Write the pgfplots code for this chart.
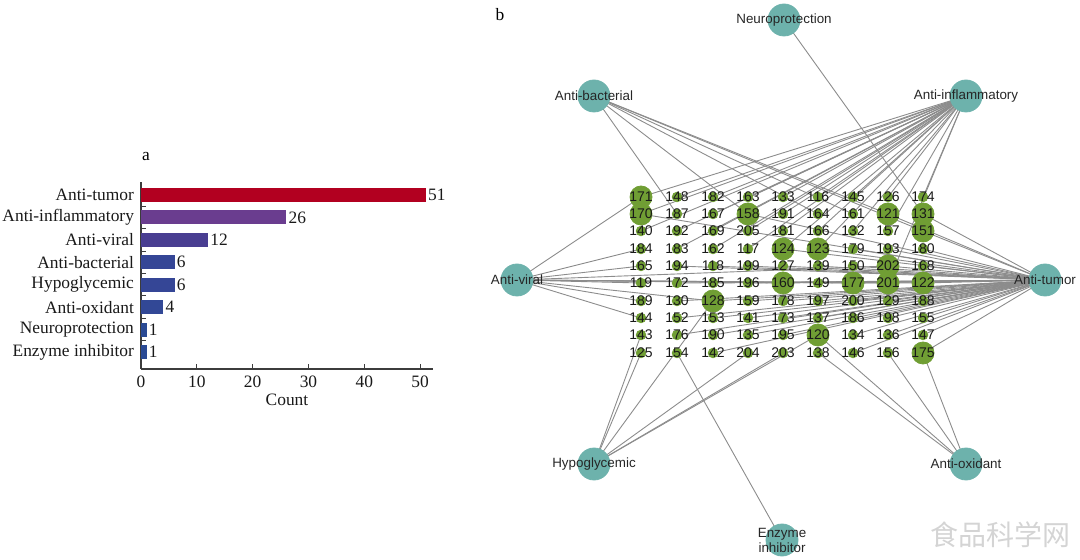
\documentclass[border=0pt]{standalone}
\usepackage{pgfplots}
\pgfplotsset{compat=1.18}
\usepackage{pgfplotstable}
\usepackage{fontspec}
\setmainfont{Liberation Serif}
\newfontfamily\netfont{Liberation Sans}
\newfontfamily\cjk{Noto Sans CJK SC}

\definecolor{ctumor}{RGB}{178,0,32}
\definecolor{cinfl}{RGB}{106,61,143}
\definecolor{cviral}{RGB}{73,62,145}
\definecolor{cbact}{RGB}{53,70,150}
\definecolor{coxid}{RGB}{50,72,150}
\definecolor{cone}{RGB}{42,74,148}
\definecolor{hubteal}{RGB}{109,178,172}
\definecolor{nodegreen}{RGB}{112,158,52}
\definecolor{edgegray}{RGB}{140,140,140}
\definecolor{axisgray}{RGB}{60,60,60}
\definecolor{wmgray}{RGB}{212,212,212}

% ---------- network nodes ----------
\pgfplotstableread{
x y lab
677 197 148
713 197 182
748 197 163
783 197 133
818 197 116
853 197 145
888 197 126
923 197 174
677 214 187
713 214 167
783 214 191
818 214 164
853 214 161
641 231 140
677 231 192
713 231 169
748 231 205
783 231 181
818 231 166
853 231 132
888 231 157
641 249 184
677 249 183
713 249 162
748 249 117
853 249 179
888 249 193
923 249 180
641 266 165
677 266 194
713 266 118
748 266 199
783 266 127
818 266 139
853 266 150
923 266 168
641 283 119
677 283 172
713 283 185
748 283 196
818 283 149
641 301 189
677 301 130
748 301 159
783 301 178
818 301 197
853 301 200
888 301 129
923 301 188
641 318 144
677 318 152
713 318 153
748 318 141
783 318 173
818 318 137
853 318 186
888 318 198
923 318 155
641 335 143
677 335 176
713 335 190
748 335 135
783 335 195
853 335 134
888 335 136
923 335 147
641 353 125
677 353 154
713 353 142
748 353 204
783 353 203
818 353 138
853 353 146
888 353 156
}\SmallNodes

\pgfplotstableread{
x y lab
641 197 171
641 214 170
748 214 158
888 214 121
923 214 131
923 231 151
783 249 124
818 249 123
888 266 202
783 283 160
853 283 177
888 283 201
923 283 122
713 301 128
818 335 120
923 353 175
}\BigNodes

% ---------- edges: targets of each hub ----------
\pgfplotstableread{
x y
641 214
748 214
888 214
923 214
923 231
783 249
818 249
888 266
783 283
853 283
923 283
713 301
923 353
853 249
888 249
923 249
677 266
713 266
748 266
783 266
818 266
853 266
923 266
677 283
713 283
748 283
818 283
677 301
748 301
783 301
818 301
853 301
888 301
923 301
677 318
713 318
748 318
783 318
818 318
853 318
888 318
923 318
677 335
713 335
748 335
783 335
853 335
888 335
923 335
713 353
853 353
}\EdTumor

\pgfplotstableread{
x y
641 197
641 214
783 249
818 249
888 283
677 197
713 197
748 197
783 197
818 197
853 197
888 197
923 197
713 214
783 214
641 231
677 231
713 231
748 231
783 231
818 231
853 231
888 231
677 249
713 249
748 249
}\EdInfl

\pgfplotstableread{
x y
641 197
888 266
783 283
853 283
888 283
923 283
713 301
641 249
641 266
641 283
641 301
641 318
}\EdViral

\pgfplotstableread{
x y
748 214
888 214
923 231
677 214
818 214
853 214
}\EdBact

\pgfplotstableread{
x y
713 301
818 335
641 335
641 353
748 353
783 353
}\EdHypo

\pgfplotstableread{
x y
818 335
923 353
888 353
818 353
}\EdOxid

\pgfplotstableread{
x y
923 214
}\EdNeuro

\pgfplotstableread{
x y
677 353
}\EdEnz

\newcommand{\netedges}[3]{%
  \addplot[draw=edgegray, line width=0.45pt, no markers,
    quiver={u=\thisrow{x}-#1, v=\thisrow{y}-#2}]
    table[x expr=#1, y expr=#2] {#3};}

\newcommand{\barfont}{\fontsize{8.7}{10}\selectfont}
\newcommand{\netlab}{\netfont\fontsize{6.7}{7.5}\selectfont}
\newcommand{\numlab}{\netfont\fontsize{7}{8}\selectfont}

\begin{document}
\begin{tikzpicture}
% ================= network (b) =================
\begin{axis}[
  at={(0,0)}, anchor=south west,
  width=540pt, height=280pt, scale only axis,
  xmin=0, xmax=1080, ymin=0, ymax=560, y dir=reverse,
  hide axis, clip=false,
]
\netedges{1045}{280}{\EdTumor}
\netedges{966}{96}{\EdInfl}
\netedges{517}{280}{\EdViral}
\netedges{594}{96}{\EdBact}
\netedges{594}{464}{\EdHypo}
\netedges{966}{464}{\EdOxid}
\netedges{784}{20}{\EdNeuro}
\netedges{782}{540}{\EdEnz}

% compound nodes
\addplot[only marks, mark=*, mark size=2.4pt,
  mark options={draw=nodegreen, fill=nodegreen},
  point meta=explicit symbolic,
  nodes near coords, nodes near coords align=center,
  every node near coord/.append style={font=\numlab, text=black!90, inner sep=0pt}]
  table[meta=lab] {\SmallNodes};
\addplot[only marks, mark=*, mark size=5.5pt,
  mark options={draw=nodegreen, fill=nodegreen},
  point meta=explicit symbolic,
  nodes near coords, nodes near coords align=center,
  every node near coord/.append style={font=\numlab, text=black!90, inner sep=0pt}]
  table[meta=lab] {\BigNodes};

% activity hubs
\addplot[only marks, mark=*, mark size=8pt,
  mark options={draw=hubteal, fill=hubteal},
  point meta=explicit symbolic,
  nodes near coords, nodes near coords align=center,
  every node near coord/.append style={font=\netlab, text=black!85, inner sep=0pt}]
  coordinates {
   (784,20) [Neuroprotection]
   (594,96) [Anti-bacterial]
   (966,96) [Anti-inflammatory]
   (517,280) [Anti-viral]
   (1045,280) [Anti-tumor]
   (594,464) [Hypoglycemic]
   (966,464) [Anti-oxidant]
  };
\addplot[only marks, mark=*, mark size=8pt,
  mark options={draw=hubteal, fill=hubteal},
  nodes near coords={Enzyme\\inhibitor}, nodes near coords align=center,
  every node near coord/.append style={font=\netlab, text=black!85, inner sep=0pt, align=center}]
  coordinates {(782,540)};

\node[font=\barfont] at (axis cs:500,15) {b};
\node[font=\cjk\fontsize{14}{14}\selectfont, text=wmgray] at (axis cs:1000,535) {食品科学网};
\end{axis}

% ================= bar chart (a) =================
\begin{axis}[
  at={(70.5pt,95.5pt)}, anchor=south west,
  width=146pt, height=93.5pt, scale only axis,
  xbar, bar width=7pt, bar shift=0pt,
  xmin=0, xmax=52.3, ymin=-0.76, ymax=7.58,
  axis x line*=bottom, axis y line*=left,
  axis line style={draw=axisgray, line width=0.6pt},
  tick style={draw=axisgray, line width=0.5pt},
  tick align=inside, major tick length=2.5pt,
  xtick={0,10,...,50},
  ytick={0.5,1.5,...,6.5}, yticklabels={},
  extra y ticks={0,1,2,3,4,5,6,7},
  extra y tick labels={Enzyme inhibitor,Neuroprotection,Anti-oxidant,Hypoglycemic,Anti-bacterial,Anti-viral,Anti-inflammatory,Anti-tumor},
  extra y tick style={major tick length=0pt},
  ticklabel style={font=\barfont, text=black!90},
  /pgf/number format/assume math mode=true,
  xlabel={Count}, xlabel style={font=\barfont, text=black!90, yshift=4pt},
  nodes near coords,
  nodes near coords style={font=\barfont, text=black!90, inner sep=1pt},
  clip=false,
]
\addplot[fill=ctumor, draw=none] coordinates {(51,7)};
\addplot[fill=cinfl, draw=none] coordinates {(26,6)};
\addplot[fill=cviral, draw=none] coordinates {(12,5)};
\addplot[fill=cbact, draw=none] coordinates {(6,4)};
\addplot[fill=cbact, draw=none] coordinates {(6,3)};
\addplot[fill=coxid, draw=none] coordinates {(4,2)};
\addplot[fill=cone, draw=none] coordinates {(1,1)};
\addplot[fill=cone, draw=none] coordinates {(1,0)};
\node[font=\barfont, anchor=base, yshift=10.5pt] at (rel axis cs:0.017,1) {a};
\end{axis}

\pgfresetboundingbox
\path (0,0) rectangle (540pt,280pt);
\end{tikzpicture}
\end{document}
